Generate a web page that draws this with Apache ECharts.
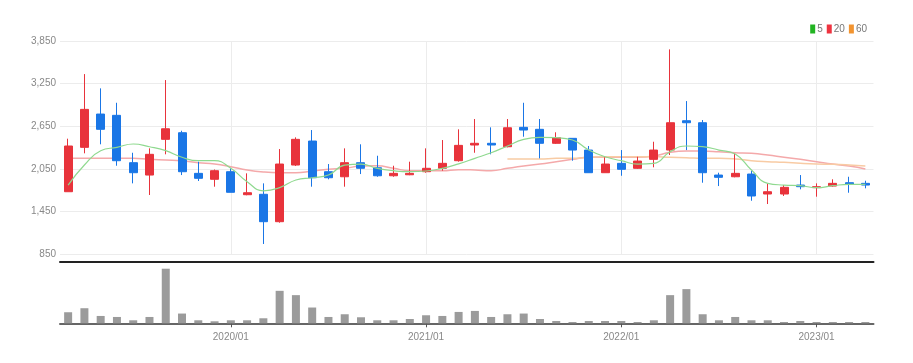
<!DOCTYPE html>
<html>
<head>
<meta charset="utf-8">
<script src="https://cdn.jsdelivr.net/npm/echarts@6/dist/echarts.min.js"></script>
<style>
html,body{margin:0;padding:0;background:#fff;}
#c{width:913px;height:363px;}
</style>
</head>
<body>
<div id="c"></div>
<script>
var categories = ['2019/03','2019/04','2019/05','2019/06','2019/07','2019/08','2019/09','2019/10','2019/11','2019/12',
'2020/01','2020/02','2020/03','2020/04','2020/05','2020/06','2020/07','2020/08','2020/09','2020/10','2020/11','2020/12',
'2021/01','2021/02','2021/03','2021/04','2021/05','2021/06','2021/07','2021/08','2021/09','2021/10','2021/11','2021/12',
'2022/01','2022/02','2022/03','2022/04','2022/05','2022/06','2022/07','2022/08','2022/09','2022/10','2022/11','2022/12',
'2023/01','2023/02','2023/03','2023/04'];

var openP  = [1727,2352,2821,2803,2136,1962,2465,2558,1986,1902, 2009,1685,1691,1305,2103,2441,2009,1938,2136,2065,1952,1966,
              2009,2057,2164,2385,2409,2361,2634,2606,2409,2479,2314,1995, 2127,2057,2183,2314,2727,2699,1962,1938,1976,1695,1695,1821,
              1784,1807,1854,1845];
var closeP = [2371,2887,2606,2164,1995,2254,2614,2009,1916,2023, 1719,1713,1305,2117,2465,1924,1924,2136,2057,1952,1986,1986,
              2057,2127,2380,2409,2385,2628,2596,2409,2488,2314,1995,2117, 2043,2159,2314,2699,2699,1995,1930,1986,1667,1727,1789,1798,
              1798,1845,1831,1821];
var lowP   = [1727,2268,2395,2093,1845,1681,2254,1962,1878,1798, 1719,1677, 991,1291,2089,1798,1902,1798,1976,1938,1938,1960,
              1995,2023,2150,2276,2254,2352,2502,2197,2400,2164,1995,1995, 1952,2050,2071,2244,2314,1854,1807,1930,1600,1554,1667,1761,
              1657,1798,1713,1775];
var highP  = [2474,3384,3183,2980,2276,2338,3300,2586,2150,2040, 2057,1986,1845,2328,2493,2596,2117,2338,2395,2234,2093,2150,
              2338,2455,2606,2751,2634,2751,2980,2751,2564,2479,2371,2212, 2314,2220,2431,3732,3004,2737,1995,2268,2023,1845,1821,1962,
              1845,1902,1938,1882];

var ma5  = [1821,2103,2305,2352,2399,2361,2305,2212,2164,2164, 2057,1868,1740,1784,1892,1924,1962,2103,2117,2057,2023,2009,
            2019,2057,2120,2197,2276,2371,2465,2493,2488,2455,2314,2220, 2164,2117,2127,2290,2371,2361,2314,2258,2033,1845,1821,1812,
            1784,1812,1831,1831];
var ma20 = [2197,2197,2197,2197,2197,2183,2174,2164,2136,2117, 2079,2033,2005,1995,1995,2019,2043,2057,2089,2093,2057,2023,
            2023,2023,2038,2033,2023,2057,2089,2117,2150,2183,2212,2212, 2212,2212,2230,2282,2300,2300,2290,2276,2268,2244,2212,2183,
            2150,2117,2089,2047];
var ma60 = [null,null,null,null,null,null,null,null,null,null, null,null,null,null,null,null,null,null,null,null,null,null,
            null,null,null,null,null,2188,2188,2188,2197,2197,2212,2220, 2220,2220,2222,2212,2207,2197,2197,2188,2164,2150,2141,2127,
            2117,2113,2103,2089];

var volume = [110,150,73,63,30,63,543,97,30,20, 30,30,50,323,280,157,63,90,60,30,30,43,
              80,73,113,123,63,90,97,43,23,13,23,23, 23,13,30,280,340,90,30,63,30,30,13,23,
              13,13,13,13];

var yTicks = {min: 850, max: 3850, interval: 600};

var candleData = categories.map(function (c, i) {
  return [openP[i], closeP[i], lowP[i], highP[i]];
});

var isYearStart = function (idx, name) { return /\/01$/.test(name); };
var FONT = "'Liberation Sans Narrow', 'Liberation Sans', sans-serif";

var chart = echarts.init(document.getElementById('c'), null, {renderer: 'canvas'});
chart.setOption({
  animation: false,
  backgroundColor: '#fff',
  legend: {
    right: 41, top: 19,
    itemWidth: 5, itemHeight: 9, itemGap: 4,
    icon: 'rect',
    textStyle: {fontSize: 10, color: '#777', fontFamily: FONT, padding: [0, 0, 0, -3]},
    data: [
      {name: '5', itemStyle: {color: '#22b422'}},
      {name: '20', itemStyle: {color: '#ee3340'}},
      {name: '60', itemStyle: {color: '#f29430'}}
    ]
  },
  grid: [
    {left: 60, right: 39.5, top: 41, height: 213},
    {left: 60, right: 39.5, top: 268, height: 55.3}
  ],
  xAxis: [
    {
      type: 'category', gridIndex: 0, data: categories, boundaryGap: true,
      offset: 8,
      axisLine: {show: true, lineStyle: {color: '#222', width: 2}},
      axisTick: {show: false},
      axisLabel: {show: false},
      splitLine: {show: true, interval: isYearStart, alignWithLabel: true, lineStyle: {color: '#ececec', width: 1}}
    },
    {
      type: 'category', gridIndex: 1, data: categories, boundaryGap: true,
      axisLine: {show: true, lineStyle: {color: '#666', width: 2}},
      axisTick: {show: true, alignWithLabel: true, interval: isYearStart, length: 4, lineStyle: {color: '#555'}},
      axisLabel: {show: true, interval: isYearStart, color: '#888', fontSize: 10, fontFamily: FONT, margin: 9},
      splitLine: {show: false}
    }
  ],
  yAxis: [
    {
      type: 'value', gridIndex: 0, min: yTicks.min, max: yTicks.max, interval: yTicks.interval,
      axisLine: {show: false}, axisTick: {show: false},
      axisLabel: {color: '#888', fontSize: 10, fontFamily: FONT, margin: 4,
        formatter: function (v) { return v.toLocaleString('en-US'); }},
      splitLine: {show: true, lineStyle: {color: '#ececec', width: 1}}
    },
    {
      type: 'value', gridIndex: 1, min: 0, max: 550,
      axisLine: {show: false}, axisTick: {show: false}, axisLabel: {show: false},
      splitLine: {show: false}
    }
  ],
  series: [
    {
      name: 'price', type: 'candlestick', xAxisIndex: 0, yAxisIndex: 0,
      data: candleData, barWidth: 8.5,
      itemStyle: {color: '#e8333b', color0: '#1a76e6', borderColor: '#e8333b', borderColor0: '#1a76e6', borderWidth: 1}
    },
    {
      name: '5', type: 'line', xAxisIndex: 0, yAxisIndex: 0, data: ma5, smooth: true, showSymbol: false, symbol: 'none',
      itemStyle: {color: '#22b422'}, lineStyle: {color: '#8fd98f', width: 1.2}, z: 3
    },
    {
      name: '20', type: 'line', xAxisIndex: 0, yAxisIndex: 0, data: ma20, smooth: true, showSymbol: false, symbol: 'none',
      itemStyle: {color: '#ee3340'}, lineStyle: {color: '#f4a9aa', width: 1.5}, z: 1
    },
    {
      name: '60', type: 'line', xAxisIndex: 0, yAxisIndex: 0, data: ma60, smooth: true, showSymbol: false, symbol: 'none',
      itemStyle: {color: '#f29430'}, lineStyle: {color: '#f8cba4', width: 1.5}, z: 1
    },
    {
      name: 'volume', type: 'bar', xAxisIndex: 1, yAxisIndex: 1, data: volume, barWidth: 8,
      itemStyle: {color: '#9b9b9b'}
    }
  ]
});
</script>
</body>
</html>
